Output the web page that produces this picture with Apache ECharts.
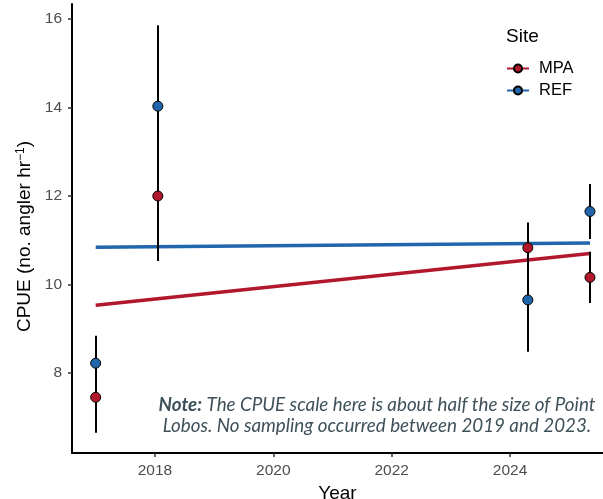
<!DOCTYPE html>
<html>
<head>
<meta charset="utf-8">
<script src="https://cdn.jsdelivr.net/npm/echarts@6/dist/echarts.min.js"></script>
<style>
  html, body { margin: 0; padding: 0; background: #fff; }
  #chart { width: 603px; height: 499px; }
</style>
</head>
<body>
<div id="chart"></div>
<script>
// Survey years (decimal year of each sampling trip)
const years = [2017.0, 2018.05, 2024.3, 2025.35];

// Mean CPUE per site and its standard error
const mpaMean = [7.45, 12.0, 10.83, 10.16];
const mpaSE   = [0.80, 1.47, 0.57, 0.58];
const refMean = [8.22, 14.03, 9.65, 11.65];
const refSE   = [0.62, 1.83, 1.17, 0.62];

// Linear trend end points (first and last survey)
const fitYears = [2017.0, 2025.35];
const mpaFit = [9.53, 10.70];
const refFit = [10.84, 10.94];

// Axis tick labels
const xTicks = [2018, 2020, 2022, 2024];
const yTicks = [8, 10, 12, 14, 16];

const RED = '#B2182B';
const BLUE = '#2166AC';
const SANS = 'Liberation Sans, Arial, sans-serif';

const pairs = (xs, ys) => xs.map((x, i) => [x, ys[i]]);
const bars = (means, se) => years.map((x, i) => [x, means[i] - se[i], means[i] + se[i]]);

function errorBar(params, api) {
  const p1 = api.coord([api.value(0), api.value(1)]);
  const p2 = api.coord([api.value(0), api.value(2)]);
  const x = Math.round(p1[0]);
  return {
    type: 'line',
    shape: { x1: x, y1: p1[1], x2: x, y2: p2[1] },
    style: { stroke: '#000', lineWidth: 2 }
  };
}

const chart = echarts.init(document.getElementById('chart'), null, { renderer: 'canvas' });

const axisFont = { fontFamily: SANS, color: '#4d4d4d', fontSize: 15.5 };

chart.setOption({
  animation: false,
  backgroundColor: '#fff',
  grid: { left: 72, right: 0, top: 4, bottom: 46, containLabel: false, outerBoundsMode: 'none' },
  title: {
    text: 'Site',
    left: 501, top: 22,
    textStyle: { fontFamily: SANS, fontSize: 19, fontWeight: 'normal', color: '#000' }
  },
  legend: {
    data: ['MPA', 'REF'],
    orient: 'vertical',
    left: 501, top: 55,
    itemWidth: 22, itemHeight: 10,
    itemGap: 5,
    textStyle: { fontFamily: SANS, fontSize: 16.5, color: '#000', padding: [0, 0, 0, 5] }
  },
  xAxis: {
    type: 'value',
    min: 2016.6, max: 2025.57,
    name: 'Year', nameLocation: 'middle', nameGap: 25,
    nameTextStyle: { fontFamily: SANS, fontSize: 19, color: '#000' },
    splitLine: { show: false },
    axisLine: { show: true, onZero: false, lineStyle: { color: '#000', width: 2 } },
    axisTick: { show: true, length: 4, lineStyle: { color: '#333', width: 1.5 }, customValues: xTicks },
    axisLabel: Object.assign({ customValues: xTicks, margin: 10, formatter: v => String(v) }, axisFont)
  },
  yAxis: {
    type: 'value',
    min: 6.19, max: 16.34,
    name: '{t|CPUE (no. angler hr}{s|−1}{t|)}', nameLocation: 'middle', nameGap: 36,
    nameTextStyle: {
      fontFamily: SANS, fontSize: 19, color: '#000',
      padding: [0, 16, 0, 0],
      rich: {
        t: { fontFamily: SANS, fontSize: 19, color: '#000' },
        s: { fontFamily: SANS, fontSize: 12, color: '#000', verticalAlign: 'top', padding: [0, 0, 8, 0] }
      }
    },
    splitLine: { show: false },
    axisLine: { show: true, onZero: false, lineStyle: { color: '#000', width: 2 } },
    axisTick: { show: true, length: 4, lineStyle: { color: '#333', width: 1.5 }, customValues: yTicks },
    axisLabel: Object.assign({ customValues: yTicks, margin: 10, formatter: v => String(v) }, axisFont)
  },
  series: [
    {
      name: 'MPA', type: 'line', data: pairs(fitYears, mpaFit),
      symbol: 'circle', symbolSize: 9, showSymbol: false,
      lineStyle: { color: RED, width: 3.5 },
      itemStyle: { color: RED, borderColor: '#000', borderWidth: 1 },
      z: 2
    },
    {
      name: 'REF', type: 'line', data: pairs(fitYears, refFit),
      symbol: 'circle', symbolSize: 9, showSymbol: false,
      lineStyle: { color: BLUE, width: 3.5 },
      itemStyle: { color: BLUE, borderColor: '#000', borderWidth: 1 },
      z: 2
    },
    { name: 'MPA', type: 'custom', renderItem: errorBar, data: bars(mpaMean, mpaSE), z: 3 },
    { name: 'REF', type: 'custom', renderItem: errorBar, data: bars(refMean, refSE), z: 3 },
    {
      name: 'MPA', type: 'scatter', data: pairs(years, mpaMean),
      symbol: 'circle', symbolSize: 10,
      itemStyle: { color: RED, borderColor: '#000', borderWidth: 1, opacity: 1 },
      z: 4
    },
    {
      name: 'REF', type: 'scatter', data: pairs(years, refMean),
      symbol: 'circle', symbolSize: 10,
      itemStyle: { color: BLUE, borderColor: '#000', borderWidth: 1, opacity: 1 },
      z: 4
    }
  ],
  graphic: [
    {
      type: 'text',
      x: 377, y: 394,
      style: {
        text: '{b|Note:} The CPUE scale here is about half the size of Point\nLobos. No sampling occurred between 2019 and 2023.',
        align: 'center',
        fontFamily: 'Lato, sans-serif',
        fontStyle: 'italic',
        fontSize: 18.8,
        lineHeight: 21,
        fill: '#3E5059',
        rich: {
          b: { fontFamily: 'Lato, sans-serif', fontStyle: 'italic', fontWeight: 'bold', fontSize: 18.8, fill: '#3E5059' }
        }
      }
    }
  ]
});
</script>
</body>
</html>
